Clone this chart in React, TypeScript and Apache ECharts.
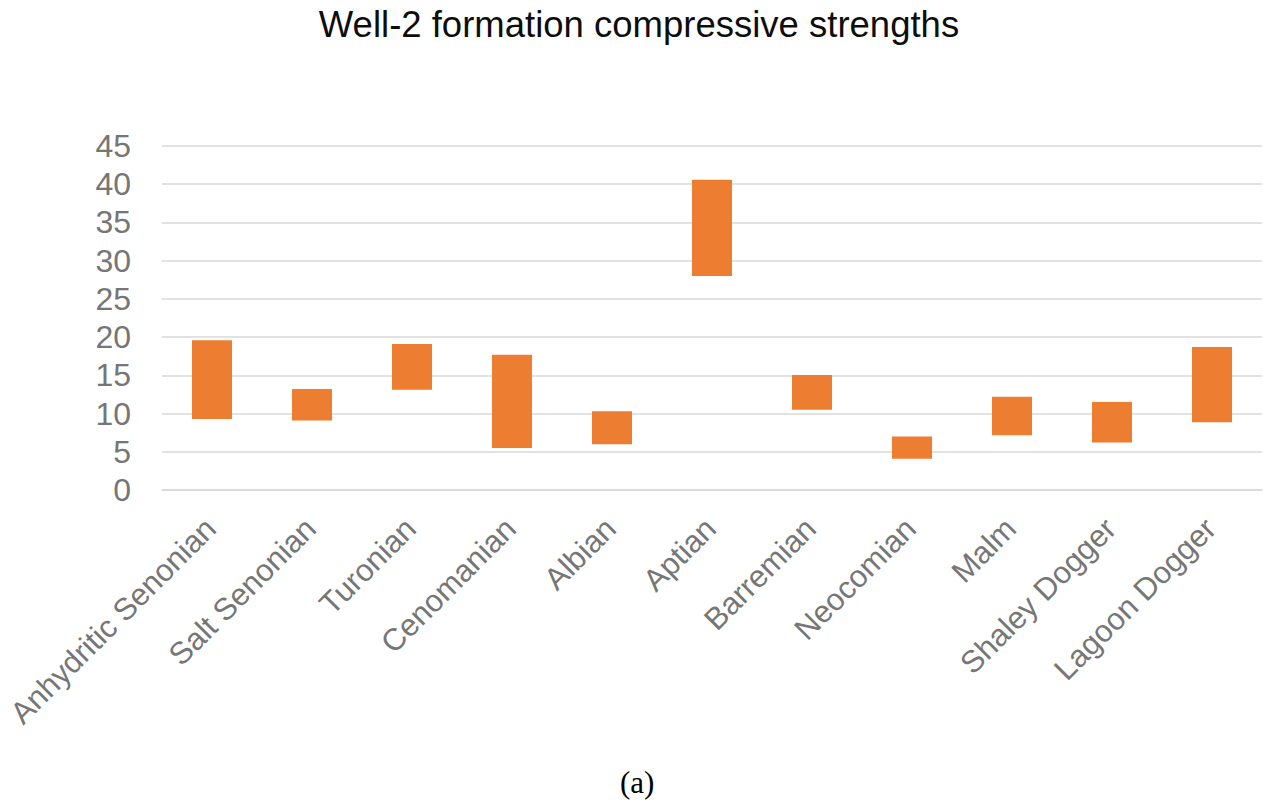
import React, { useEffect, useRef } from "react";
import * as echarts from "echarts";

const categories = [
  "Anhydritic Senonian",
  "Salt Senonian",
  "Turonian",
  "Cenomanian",
  "Albian",
  "Aptian",
  "Barremian",
  "Neocomian",
  "Malm",
  "Shaley Dogger",
  "Lagoon Dogger",
];
const lowValues = [9.3, 9.1, 13.1, 5.5, 6.0, 28.0, 10.5, 4.1, 7.15, 6.2, 8.85];
const highValues = [19.6, 13.2, 19.1, 17.7, 10.3, 40.6, 15.05, 7.0, 12.2, 11.5, 18.7];
const yTicks = [0, 5, 10, 15, 20, 25, 30, 35, 40, 45];

export default function App() {
  const ref = useRef<HTMLDivElement>(null);
  useEffect(() => {
    if (!ref.current) return;
    const chart = echarts.init(ref.current, undefined, { renderer: "svg" });
    const spans = highValues.map((h, i) => +(h - lowValues[i]).toFixed(3));
    chart.setOption({
      animation: false,
      backgroundColor: "#ffffff",
      title: {
        text: "Well-2 formation compressive strengths",
        left: 634,
        textAlign: "center",
        top: 1,
        textStyle: {
          fontFamily: "Liberation Sans, Arial, sans-serif",
          fontSize: 36.5,
          fontWeight: "normal",
          color: "#0d0d0d",
        },
      },
      grid: {
        left: 162,
        right: 1,
        top: 146,
        bottom: 317,
        containLabel: false,
        outerBoundsMode: "none",
      },
      xAxis: {
        type: "category",
        data: categories,
        axisLine: { show: true, lineStyle: { color: "#d9d9d9", width: 1.5 } },
        axisTick: { show: false },
        axisLabel: {
          rotate: 45,
          interval: 0,
          margin: 32,
          padding: [0, 2, 0, 0],
          color: "#767676",
          fontSize: 31,
          fontFamily: "Liberation Sans, Arial, sans-serif",
        },
      },
      yAxis: {
        type: "value",
        min: yTicks[0],
        max: yTicks[yTicks.length - 1],
        interval: 5,
        axisLine: { show: false },
        axisTick: { show: false },
        splitLine: { lineStyle: { color: "#d9d9d9", width: 1.5 } },
        axisLabel: {
          margin: 31,
          color: "#767676",
          fontSize: 32,
          fontFamily: "Liberation Sans, Arial, sans-serif",
        },
      },
      series: [
        {
          type: "bar",
          stack: "range",
          data: lowValues,
          barWidth: 40,
          itemStyle: { color: "rgba(0,0,0,0)" },
          silent: true,
        },
        {
          type: "bar",
          stack: "range",
          data: spans,
          barWidth: 40,
          itemStyle: { color: "#ed7d31" },
        },
      ],
      graphic: [
        {
          type: "text",
          left: 620,
          top: 767,
          style: {
            text: "(a)",
            fontFamily: "Liberation Serif, Times New Roman, serif",
            fontSize: 31,
            fill: "#000000",
          },
        },
      ],
    });
    return () => chart.dispose();
  }, []);
  return (
    <div
      ref={ref}
      style={{ position: "fixed", left: 0, top: 0, width: 1263, height: 807 }}
    />
  );
}
